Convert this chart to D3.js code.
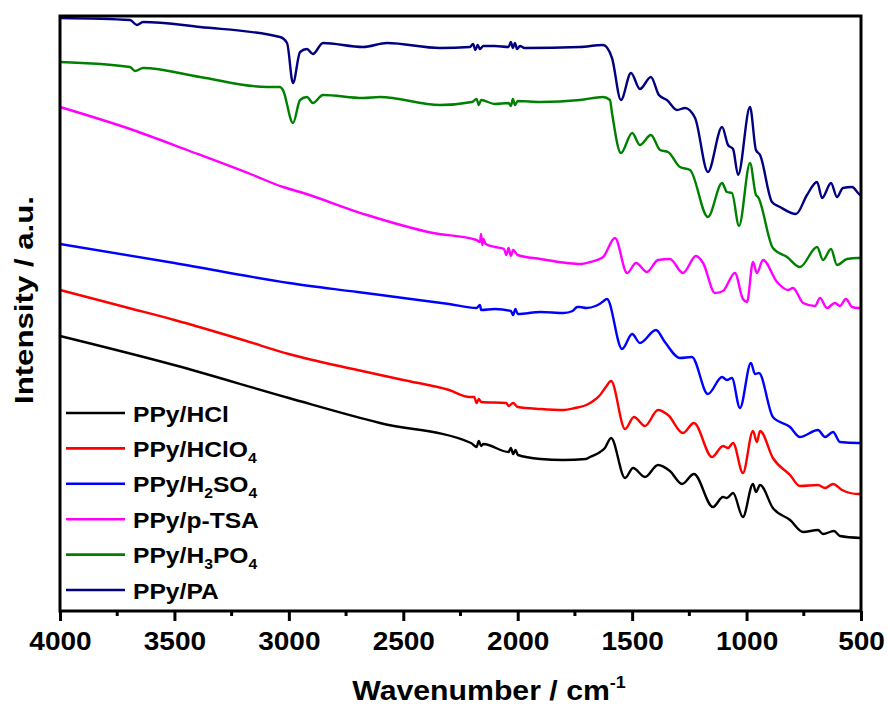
<!DOCTYPE html>
<html>
<head>
<meta charset="utf-8">
<script src="https://cdn.jsdelivr.net/npm/d3@7"></script>
<style>
  html, body { margin: 0; padding: 0; background: #fff; }
  svg { display: block; font-family: "Liberation Sans", Arial, sans-serif; font-weight: bold; }
</style>
</head>
<body>
<svg id="chart" width="888" height="709"></svg>
<script>
// ---- Data (wavenumber cm-1, intensity a.u. with vertical offsets) ----
const xTicks = [4000, 3500, 3000, 2500, 2000, 1500, 1000, 500];
const seriesNames = ["PPy/HCl", "PPy/HClO4", "PPy/H2SO4", "PPy/p-TSA", "PPy/H3PO4", "PPy/PA"];
const seriesColors = ["#000000", "#ff0000", "#0000ff", "#ff00ff", "#008000", "#000080"];

const hclData = [
  [4000,275],[3502,246],[3000,213],[2602,188],[2204,168],[2180,164],[2170,170],[2160,165],[2150,167],
  [2040,159],[2030,163],[2020,157],[2010,161],[1999,156],[1900,152],[1802,151],[1702,152],[1684,154],
  [1640,159],[1619,163],[1592,173],[1531,133],[1496,143],[1444,134],[1387,146],[1335,140],[1282,127],
  [1230,137],[1147,104],[1103,114],[1086,113],[1059,118],[1016,94],[972,127],[959,119],[941,126],
  [885,103],[810,91],[753,79],[688,81],[666,77],[618,80],[592,75],[500,73]
];
const hclo4Data = [
  [4000,321],[3700,303],[3500,291],[3200,271],[3000,257],[2700,241],[2500,231],[2300,221],[2210,214],
  [2190,214],[2180,208],[2170,212],[2160,209],[2050,208],[2040,205],[2020,208],[2000,204],[1900,202],
  [1800,201],[1750,203],[1700,206],[1670,210],[1640,216],[1615,224],[1592,230],[1531,182],[1492,194],
  [1444,185],[1387,201],[1343,196],[1278,178],[1230,188],[1151,154],[1103,165],[1081,163],[1059,168],
  [1016,138],[972,180],[955,169],[941,180],[885,153],[810,136],[767,125],[688,126],[657,123],[622,127],
  [583,121],[513,117],[500,117]
];
const h2so4Data = [
  [4000,367],[3500,348],[3000,328],[2700,319],[2500,313],[2300,307],[2180,303],[2165,306],[2160,301],
  [2100,302],[2030,300],[2020,296],[2010,302],[2000,297],[1900,299],[1800,298],[1760,300],[1740,304],
  [1728,304],[1700,303],[1660,305],[1630,309],[1610,312],[1544,262],[1500,277],[1466,268],[1396,281],
  [1357,269],[1291,253],[1239,254],[1169,217],[1107,234],[1086,231],[1064,233],[1029,203],[981,248],
  [963,237],[946,238],[885,194],[810,184],[767,174],[688,181],[657,174],[622,179],[592,169],[513,168],
  [500,168]
];
const ptsaData = [
  [4000,504],[3681,481],[3445,461],[3157,436],[3026,424],[2951,419],[2659,396],[2370,378],[2180,371],
  [2165,369],[2160,377],[2155,366],[2150,372],[2140,367],[2100,364],[2060,362],[2050,356],[2040,363],
  [2030,355],[2020,361],[2000,356],[1900,352],[1785,348],[1728,347],[1684,349],[1627,354],[1575,373],
  [1522,338],[1483,348],[1435,339],[1387,351],[1335,352],[1278,338],[1221,355],[1190,348],[1138,318],
  [1103,320],[1051,338],[1016,312],[998,309],[972,349],[955,338],[928,351],[867,329],[819,321],[797,323],
  [753,308],[701,305],[679,313],[649,303],[614,308],[592,305],[566,312],[539,304],[513,303],[500,303]
];
const h3po4Data = [
  [4000,549],[3694,544],[3672,540],[3637,543],[3388,534],[3096,524],[3039,524],[3026,521],[2982,488],
  [2951,511],[2921,514],[2895,508],[2851,516],[2676,513],[2602,514],[2340,506],[2200,509],[2180,512],
  [2170,506],[2160,511],[2100,507],[2040,508],[2030,505],[2021,512],[2012,506],[2000,510],[1900,509],
  [1728,511],[1627,514],[1597,511],[1588,498],[1549,458],[1500,478],[1466,466],[1418,476],[1378,461],
  [1343,459],[1291,444],[1247,441],[1169,394],[1107,428],[1086,419],[1064,418],[1033,385],[985,448],
  [959,416],[950,414],[885,363],[823,354],[767,344],[692,364],[666,351],[631,362],[605,346],[561,352],
  [513,353],[500,353]
];
const paData = [
  [4000,593],[3694,591],[3664,586],[3637,589],[3388,584],[3039,574],[3008,568],[2982,528],[2951,559],
  [2921,562],[2895,557],[2851,568],[2676,564],[2571,568],[2340,563],[2209,564],[2195,567],[2185,561],
  [2175,566],[2165,562],[2150,565],[2100,565],[2040,564],[2030,569],[2021,563],[2012,568],[2003,562],
  [1990,565],[1970,563],[1728,564],[1627,566],[1588,553],[1549,511],[1505,538],[1466,522],[1418,534],
  [1383,516],[1348,511],[1304,501],[1269,503],[1225,493],[1169,439],[1107,484],[1081,466],[1059,462],
  [1037,436],[985,504],[959,461],[941,456],[889,409],[854,404],[784,397],[736,416],[692,429],[670,413],
  [631,428],[605,414],[579,423],[539,424],[513,418],[500,415]
];
const allSeries = [hclData, hclo4Data, h2so4Data, ptsaData, h3po4Data, paData];

// ---- Layout ----
const svg = d3.select("#chart");
const L = 60, R = 861, T = 16, B = 611;
const x = d3.scaleLinear().domain([4000, 500]).range([L, R]);
const y = d3.scaleLinear().domain([0, 595]).range([B, T]);

// curves
const line = d3.line().x(d => x(d[0])).y(d => y(d[1])).curve(d3.curveMonotoneX);
const plot = svg.append("g");
allSeries.forEach((s, i) => {
  plot.append("path").datum(s)
    .attr("d", line)
    .attr("fill", "none")
    .attr("stroke", seriesColors[i])
    .attr("stroke-width", 2.4)
    .attr("stroke-linejoin", "round");
});

// frame
svg.append("rect").attr("x", L).attr("y", T).attr("width", R - L).attr("height", B - T)
  .attr("fill", "none").attr("stroke", "#000").attr("stroke-width", 3);

// x axis ticks (outward)
const xAxis = d3.axisBottom(x).tickValues(xTicks).tickSize(10).tickSizeOuter(0).tickFormat(d3.format("d"));
const gx = svg.append("g").attr("transform", `translate(0,${B})`).call(xAxis);
gx.select(".domain").remove();
gx.selectAll(".tick line").attr("stroke", "#000").attr("stroke-width", 3);
gx.selectAll(".tick text").remove();
gx.selectAll(".tick").append("g").attr("transform", "translate(0,39) scale(1.12,1)")
  .append("text").attr("text-anchor", "middle").attr("font-size", 25).attr("fill", "#000")
  .text(d => d);
// minor ticks
const minor = d3.range(3750, 500, -500);
svg.append("g").selectAll("line").data(minor).join("line")
  .attr("x1", d => x(d)).attr("x2", d => x(d)).attr("y1", B).attr("y2", B + 5)
  .attr("stroke", "#000").attr("stroke-width", 3);

// axis titles
const xt = svg.append("g").attr("transform", "translate(489,700) scale(1.12,1)")
  .append("text").attr("text-anchor", "middle").attr("font-size", 27).attr("fill", "#000");
xt.append("tspan").text("Wavenumber / cm");
xt.append("tspan").attr("font-size", 16).attr("dy", -12).text("-1");

svg.append("g").attr("transform", "translate(33,300) rotate(-90) scale(1.2,1)")
  .append("text").attr("text-anchor", "middle").attr("font-size", 26).attr("fill", "#000")
  .text("Intensity / a.u.");

// legend
const legendLabels = [
  [["PPy/HCl", null]],
  [["PPy/HClO", null], ["4", "sub"]],
  [["PPy/H", null], ["2", "sub"], ["SO", null], ["4", "sub"]],
  [["PPy/p-TSA", null]],
  [["PPy/H", null], ["3", "sub"], ["PO", null], ["4", "sub"]],
  [["PPy/PA", null]]
];
const lg = svg.append("g");
legendLabels.forEach((parts, i) => {
  const yy = 413 + i * 35.4;
  lg.append("line").attr("x1", 66).attr("x2", 125).attr("y1", yy).attr("y2", yy)
    .attr("stroke", seriesColors[i]).attr("stroke-width", 2.6);
  const t = lg.append("g").attr("transform", `translate(133,${yy + 8.5}) scale(1.12,1)`)
    .append("text").attr("font-size", 22).attr("fill", "#000");
  let shifted = false;
  parts.forEach(([txt, kind]) => {
    const ts = t.append("tspan").text(txt);
    if (kind === "sub") { ts.attr("font-size", 14).attr("dy", shifted ? 0 : 6); shifted = true; }
    else if (shifted) { ts.attr("dy", -6); shifted = false; }
  });
});
</script>
</body>
</html>
